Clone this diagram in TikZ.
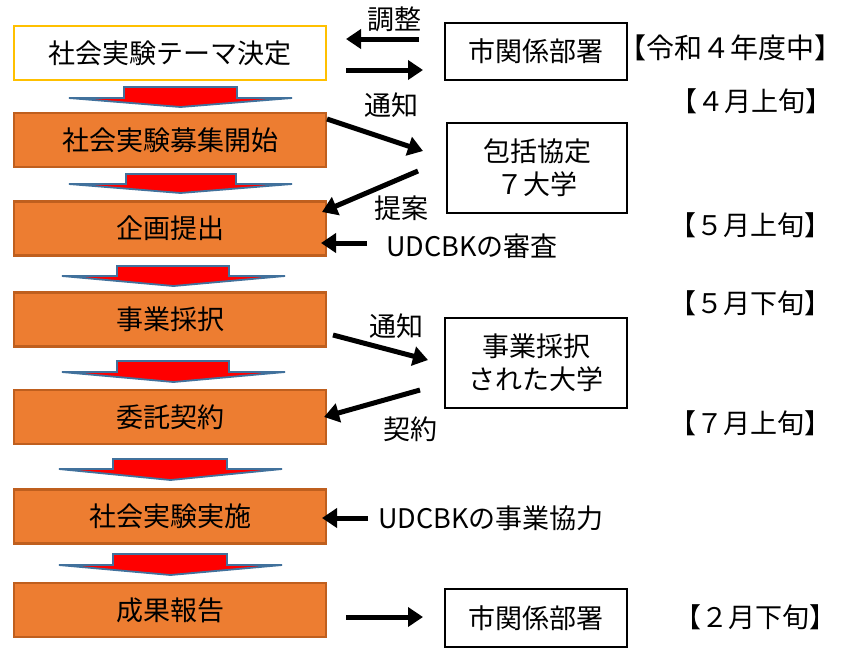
\documentclass[tikz,border=0pt]{standalone}
\usepackage{fontspec}
\setmainfont{Noto Sans CJK JP}
\usetikzlibrary{arrows.meta}
\definecolor{boxorange}{HTML}{ED7D31}
\definecolor{boxedge}{HTML}{BF5F1E}
\definecolor{goldedge}{HTML}{FFC000}
\definecolor{steel}{HTML}{41719C}
\newcommand\flowdown[8][]{%
  \fill[red,draw=steel,line width=1.8pt,line join=miter,#1]
    (#5,#2) -- (#6,#2) -- (#6,#3) -- (#8,#3) -- ({(#7+#8)/2},#4) -- (#7,#3) -- (#5,#3) -- cycle;}
\begin{document}
\begin{tikzpicture}[x=1pt,y=-1pt,
  txt/.style={font=\fontsize{27}{33}\selectfont},
  stepbox/.style={txt,draw=boxedge,fill=boxorange,line width=2.5pt,minimum width=312pt,minimum height=54pt,inner sep=0pt},
  topbox/.style={stepbox,draw=goldedge,fill=white,line width=2pt},
  sidebox/.style={txt,draw=black,fill=white,line width=2pt,inner sep=0pt,align=center,minimum width=182pt},
  lbl/.style={txt,inner sep=0pt},
  datelbl/.style={txt,inner sep=0pt},
  blk/.style={line width=5pt,-{Triangle[length=15pt,width=19pt]}}]
\useasboundingbox (0,0) rectangle (856,649);
% left column
\node[topbox]  (s1) at (170,53)    {社会実験テーマ決定};
\node[stepbox] (s2) at (170,140)   {社会実験募集開始};
\node[stepbox] (s3) at (170,228.5) {企画提出};
\node[stepbox] (s4) at (170,319.5) {事業採択};
\node[stepbox] (s5) at (170,417)   {委託契約};
\node[stepbox] (s6) at (170,516.5) {社会実験実施};
\node[stepbox] (s7) at (170,610)   {成果報告};
% down arrows between steps
\flowdown{87}{98}{107}{124}{237}{69}{292}
\flowdown{174}{184}{193}{126}{236}{69}{292}
\flowdown{266}{276}{286}{117}{229}{62}{285}
\flowdown{361}{372}{382}{117}{229}{62}{285}
\flowdown{459}{469}{480}{113}{227}{59}{282}
\flowdown{554}{565}{575}{113}{227}{59}{282}
% right boxes
\node[sidebox,minimum height=57pt] (r1) at (536,51.5) {市関係部署};
\node[sidebox,minimum width=180pt,minimum height=90pt] (r2) at (537,167.5) {包括協定\\７大学};
\node[sidebox,minimum height=90pt] (r3) at (536,363) {事業採択\\された大学};
\node[sidebox,minimum height=58pt] (r4) at (536,618) {市関係部署};
% connector end points
\coordinate (a1s) at (419,39);  \coordinate (a1e) at (346,39);
\coordinate (a2s) at (346,70);  \coordinate (a2e) at (423,70);
\coordinate (a3s) at (327,119); \coordinate (a3e) at (423,151);
\coordinate (a4s) at (418,171); \coordinate (a4e) at (322,212);
\coordinate (a5s) at (367,243); \coordinate (a5e) at (321,243);
\coordinate (a6s) at (333,335); \coordinate (a6e) at (428,360);
\coordinate (a7s) at (420,390); \coordinate (a7e) at (324,417);
\coordinate (a8s) at (368,518); \coordinate (a8e) at (322,518);
\coordinate (a9s) at (346,617); \coordinate (a9e) at (423,617);
\draw[blk] (a1s) -- (a1e);
\draw[blk] (a2s) -- (a2e);
\draw[blk] (a3s) -- (a3e);
\draw[blk] (a4s) -- (a4e);
\draw[blk] (a5s) -- (a5e);
\draw[blk] (a6s) -- (a6e);
\draw[blk] (a7s) -- (a7e);
\draw[blk] (a8s) -- (a8e);
\draw[blk] (a9s) -- (a9e);
% connector labels
\node[lbl] (l1) at (394,19)  {調整};
\node[lbl] (l2) at (391,105) {通知};
\node[lbl] (l3) at (401,208) {提案};
\node[lbl,anchor=west] (l4) at (386,246) {UDCBKの審査};
\node[lbl] (l5) at (396,326) {通知};
\node[lbl] (l6) at (410,429) {契約};
\node[lbl,anchor=west] (l7) at (378,518) {UDCBKの事業協力};
% dates
\node[datelbl,font=\fontsize{28}{33}\selectfont] (d0) at (730,48) {【令和４年度中】};
\node[datelbl] (d1) at (751,101) {【４月上旬】};
\node[datelbl] (d2) at (750,225) {【５月上旬】};
\node[datelbl] (d3) at (750,303) {【５月下旬】};
\node[datelbl] (d4) at (750,423) {【７月上旬】};
\node[datelbl] (d5) at (755,617) {【２月下旬】};
\end{tikzpicture}
\end{document}
